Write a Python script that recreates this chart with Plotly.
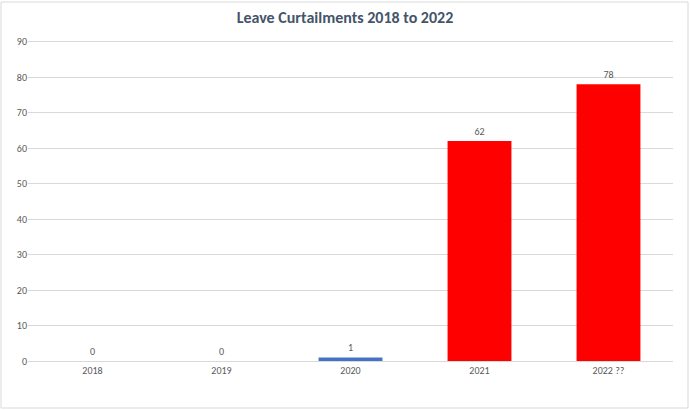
import plotly.graph_objects as go

# Data
years = ["2018", "2019", "2020", "2021", "2022 ??"]
curtailments = [0, 0, 1, 62, 78]
bar_colours = ["#4472C4", "#4472C4", "#4472C4", "#FF0000", "#FF0000"]

W, H = 690, 410
ml, mr, mt, mb = 28, 17, 38, 49
pw, ph = W - ml - mr, H - mt - mb
font_family = "Calibri, Carlito, Lato, Liberation Sans, sans-serif"

fig = go.Figure()

fig.add_trace(go.Bar(
    x=years,
    y=curtailments,
    marker=dict(color=bar_colours, line=dict(width=0)),
    width=0.495,
    text=[str(v) for v in curtailments],
    textposition="outside",
    textfont=dict(family=font_family, size=10, color="#595959"),
    cliponaxis=False,
))

# Light frame round the whole chart area
fig.add_shape(
    type="rect", xref="paper", yref="paper",
    x0=(1 - ml) / pw, x1=(W - 2 - ml) / pw,
    y0=-(mb - 2) / ph, y1=1 + (mt - 2) / ph,
    line=dict(color="#D9D9D9", width=1),
)

fig.update_layout(
    width=W, height=H,
    margin=dict(l=ml, r=mr, t=mt, b=mb),
    paper_bgcolor="white",
    plot_bgcolor="white",
    showlegend=False,
    title=dict(
        text="<b>Leave Curtailments 2018 to 2022</b>",
        x=0.5, xanchor="center", y=0.958, yanchor="middle",
        font=dict(family=font_family, size=16, color="#44546A"),
    ),
    xaxis=dict(
        showgrid=False, showline=True, linecolor="#D9D9D9", linewidth=1,
        ticks="", tickfont=dict(family=font_family, size=10, color="#595959"),
    ),
    yaxis=dict(
        range=[0, 91], tickvals=list(range(0, 91, 10)), showgrid=True,
        gridcolor="#D9D9D9", gridwidth=1, zeroline=False, ticks="",
        tickfont=dict(family=font_family, size=10, color="#595959"),
    ),
)

# drop the browser's default page margin so the chart fills the window
fig.write_html("out.html", config={"displayModeBar": False},
               post_script="document.body.style.margin='0';")
